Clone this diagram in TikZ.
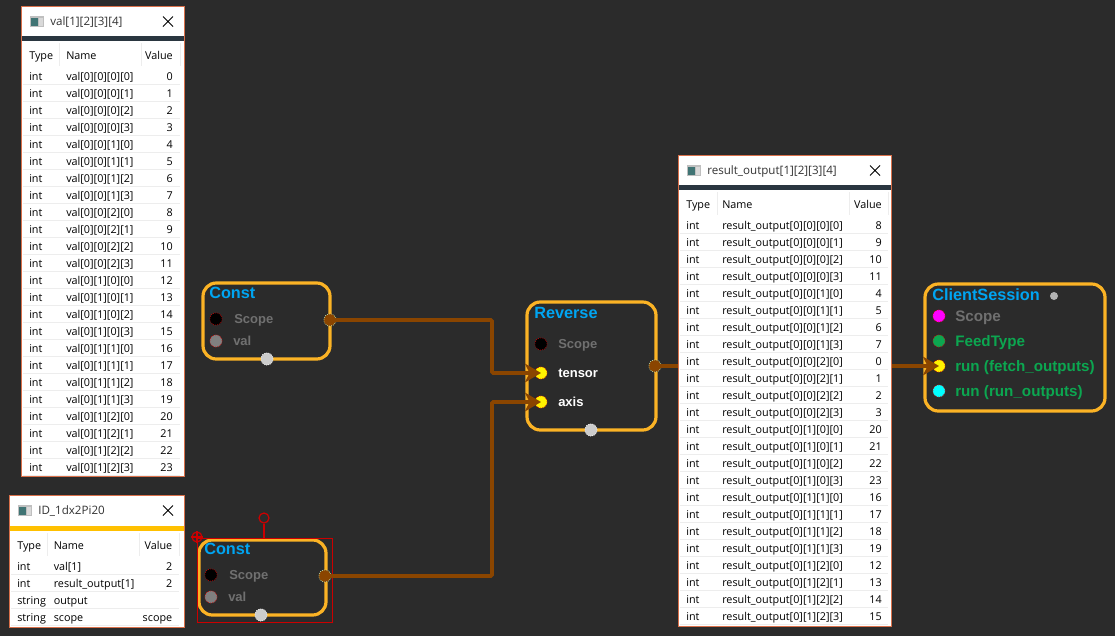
\documentclass[tikz,border=0pt]{standalone}
\usepackage{fontspec}
\setmainfont{Liberation Sans}
\newfontfamily\tblfont{Open Sans}
\usetikzlibrary{arrows.meta}
\definecolor{canvasbg}{HTML}{2B2B2B}
\definecolor{nodeframe}{HTML}{FBB325}
\definecolor{titleblue}{HTML}{00A5F2}
\definecolor{dimtext}{HTML}{707070}
\definecolor{pingreen}{HTML}{0CA650}
\definecolor{pinmagenta}{HTML}{FF00FF}
\definecolor{pincyan}{HTML}{00FFFF}
\definecolor{edgebrown}{HTML}{8A4500}
\definecolor{winframe}{HTML}{D9704A}
\definecolor{darkband}{HTML}{2A3640}
\definecolor{yellowband}{HTML}{FFC000}
\definecolor{rowline}{HTML}{EDEDED}
\tikzset{
  opbox/.style={draw=nodeframe, line width=2.4pt, rounded corners=10pt, fill=none},
  optitle/.style={anchor=west, inner sep=0pt, font=\bfseries\fontsize{12.2}{12}\selectfont, text=titleblue, text height=9.4pt, text depth=0pt},
  pinlabel/.style={anchor=west, inner sep=0pt, font=\bfseries\fontsize{9.75}{10}\selectfont, text=dimtext, text height=7.9pt, text depth=1.1pt},
  sessionlabel/.style={pinlabel, font=\bfseries\fontsize{11.4}{12}\selectfont, text=pingreen, text height=9.1pt, text depth=1.3pt},
  pin/.style={circle, minimum size=9.2pt, inner sep=0pt, draw=red!85!black, densely dotted, line width=.5pt, fill=black},
  outpin/.style={pin, fill=edgebrown, draw=green!20!white},
  flowpin/.style={pin, fill=black!20, draw=white},
  link/.style={draw=edgebrown, line width=2.8pt, rounded corners=1pt},
  linkin/.style={link, -{Stealth[length=12pt,width=14pt,inset=3.5pt]}},
  cell/.style={anchor=west, inner sep=0pt, font=\tblfont\fontsize{8.1}{8}\selectfont, text=black, text height=7.1pt, text depth=.9pt},
  cellnum/.style={cell, anchor=east},
  wintitle/.style={cell, font=\tblfont\fontsize{8.7}{9}\selectfont, text=black!80},
  winsheet/.style={draw=winframe, line width=.8pt, fill=white},
}
% window frame: left, top, right, bottom, band top, band colour, title, name
\newcommand{\tablewin}[8]{
  \node[winsheet, anchor=north west, minimum width=#3*.75pt-#1*.75pt, minimum height=#4*.75pt-#2*.75pt] (#8) at (#1,#2) {};
  \fill[#6] (#1+.5,#5) rectangle (#3-.5,#5+5);
  \fill[black!25] (#1+9,#2+10) rectangle (#1+23,#2+21);
  \fill[teal!55!black!75] (#1+10,#2+12) rectangle (#1+17,#2+20);
  \fill[white!85!black] (#1+18,#2+12) rectangle (#1+22,#2+20);
  \node[wintitle] (#8title) at (#1+29,#2+15.5) {#7};
  \draw[black, line width=.7pt] (#3-21,#2+10.5) -- (#3-11,#2+20.5) (#3-21,#2+20.5) -- (#3-11,#2+10.5);
}
\begin{document}
\begin{tikzpicture}[x=.75pt,y=-.75pt]
  \useasboundingbox[fill=canvasbg] (0,0) rectangle (1115,636);

  % Table val
  \tablewin{21}{6}{184}{476}{36}{darkband}{val[1][2][3][4]}{valwin}
  \node[cell] (valtype) at (29,55) {Type};
  \node[cell] (valname) at (66,55) {Name};
  \node[cellnum] (valvalue) at (173,55) {Value};
  \draw[rowline] (59,43) -- (59,66) (141,43) -- (141,66) (180,43) -- (180,66);
  \foreach \v [count=\i from 0] in {0,...,23} {
    \pgfmathtruncatemacro{\ia}{\i/12}
    \pgfmathtruncatemacro{\ib}{mod(\i,12)/4}
    \pgfmathtruncatemacro{\ic}{mod(\i,4)}
    \draw[rowline] (23,76+17*\i+8.5) -- (180,76+17*\i+8.5);
    \node[cell] (valt\i) at (29,76+17*\i) {int};
    \node[cell] (valn\i) at (66,76+17*\i) {val[0][\ia][\ib][\ic]};
    \node[cellnum] (valv\i) at (173,76+17*\i) {\v};
  }

  % Table result_output
  \tablewin{678}{155}{891}{626}{185}{darkband}{result\_output[1][2][3][4]}{reswin}
  \node[cell] (restype) at (686,204) {Type};
  \node[cell] (resname) at (722,204) {Name};
  \node[cellnum] (resvalue) at (882,204) {Value};
  \draw[rowline] (717,192) -- (717,215) (849,192) -- (849,215) (888,192) -- (888,215);
  \foreach \v [count=\i from 0] in {8,9,10,11,4,5,6,7,0,1,2,3,20,21,22,23,16,17,18,19,12,13,14,15} {
    \pgfmathtruncatemacro{\ib}{\i/12}
    \pgfmathtruncatemacro{\ic}{mod(\i,12)/4}
    \pgfmathtruncatemacro{\id}{mod(\i,4)}
    \draw[rowline] (680,225+17*\i+8.5) -- (888,225+17*\i+8.5);
    \node[cell] (rest\i) at (686,225+17*\i) {int};
    \node[cell] (resn\i) at (722,225+17*\i) {result\_output[0][\ib][\ic][\id]};
    \node[cellnum] (resv\i) at (882,225+17*\i) {\v};
  }

  % Table ID
  \tablewin{9}{495}{184}{627}{526}{yellowband}{ID\_1dx2Pi20}{idwin}
  \node[cell] (idtype) at (17,545) {Type};
  \node[cell] (idname) at (53.5,545) {Name};
  \node[cellnum] (idvalue) at (172.5,545) {Value};
  \draw[rowline] (47,533) -- (47,556) (139,533) -- (139,556) (179,533) -- (179,556);
  \foreach \ty/\na/\va [count=\i from 0] in {int/val[1]/2, int/result\_output[1]/2, string/output/, string/scope/scope} {
    \draw[rowline] (11,566+17*\i+8.5) -- (179,566+17*\i+8.5);
    \node[cell] (idt\i) at (17,566+17*\i) {\ty};
    \node[cell] (idn\i) at (53.5,566+17*\i) {\na};
    \node[cellnum] (idv\i) at (172.5,566+17*\i) {\va};
  }

  % Const 1
  \draw[opbox] (203,283) rectangle (330,359);
  \node[optitle] (ctitle) at (209,292) {Const};
  \node[pin] (cscope) at (216,319) {};
  \node[pin, fill=black!50] (cval) at (216,341) {};
  \node[pinlabel] (cscopetxt) at (234,319) {Scope};
  \node[pinlabel] (cvaltxt) at (233,341) {val};
  \node[outpin] (cout) at (330,320) {};
  \node[flowpin] (cflow) at (267,359) {};

  % Const 2, selected
  \draw[opbox] (199,540) rectangle (326,615);
  \node[optitle] (dtitle) at (204,548) {Const};
  \node[pin] (dscope) at (211,575) {};
  \node[pin, fill=black!50] (dval) at (211,597) {};
  \node[pinlabel] (dscopetxt) at (229,575) {Scope};
  \node[pinlabel] (dvaltxt) at (228,597) {val};
  \node[outpin] (dout) at (325,576) {};
  \node[flowpin] (dflow) at (261,615) {};
  \node[draw=red!80!black, line width=.9pt, minimum width=101pt, minimum height=63pt, inner sep=0pt, anchor=north west] (dselect) at (197,538) {};
  \node[circle, draw=red!80!black, line width=.9pt, minimum size=7.5pt, inner sep=0pt] (drotate) at (264,518) {};
  \draw[red!80!black, line width=.9pt] (drotate) -- (drotate |- dselect.north);
  \node[circle, draw=red!80!black, line width=.9pt, minimum size=7.5pt, inner sep=0pt] (dpivot) at (197,537) {};
  \draw[red!80!black, line width=.9pt] (dpivot.north) -- (dpivot.south) (dpivot.west) -- (dpivot.east);

  % Reverse
  \draw[opbox] (527,302) rectangle (656,430);
  \node[optitle] (rtitle) at (534,312) {Reverse};
  \node[pin] (rscope) at (541,344) {};
  \node[pin, fill=yellow] (rtensor) at (541,373) {};
  \node[pin, fill=yellow] (raxis) at (541,402) {};
  \node[pinlabel] (rscopetxt) at (558,344) {Scope};
  \node[pinlabel, text=white] (rtensortxt) at (558,373) {tensor};
  \node[pinlabel, text=white] (raxistxt) at (558,402) {axis};
  \node[outpin] (rout) at (655,366) {};
  \node[flowpin] (rflow) at (591,430) {};

  % ClientSession
  \draw[opbox] (925,284) rectangle (1105,411);
  \node[optitle] (stitle) at (932,294) {ClientSession};
  \node[circle, fill=black!30, minimum size=6pt, inner sep=0pt] (sdot) at (1054,296) {};
  \node[pin, fill=pinmagenta] (sscope) at (939,316) {};
  \node[pin, fill=pingreen] (sfeed) at (939,341) {};
  \node[pin, fill=yellow] (sfetch) at (939,366) {};
  \node[pin, fill=pincyan] (srun) at (939,391) {};
  \node[sessionlabel, text=dimtext] (sscopetxt) at (955,316) {Scope};
  \node[sessionlabel] (sfeedtxt) at (955,341) {FeedType};
  \node[sessionlabel] (sfetchtxt) at (955,366) {run (fetch\_outputs)};
  \node[sessionlabel] (sruntxt) at (955,391) {run (run\_outputs)};

  % Links
  \coordinate (bendA) at (492,320);
  \coordinate (bendB) at (492,576);
  \draw[linkin] (cout.center) -- (bendA) |- (rtensor.center);
  \draw[linkin] (dout.center) -- (bendB) |- (raxis.center);
  \draw[link] (rout.center) -- (reswin.west |- rout);
  \draw[linkin] (reswin.east |- sfetch) -- (sfetch.center);
\end{tikzpicture}
\end{document}
